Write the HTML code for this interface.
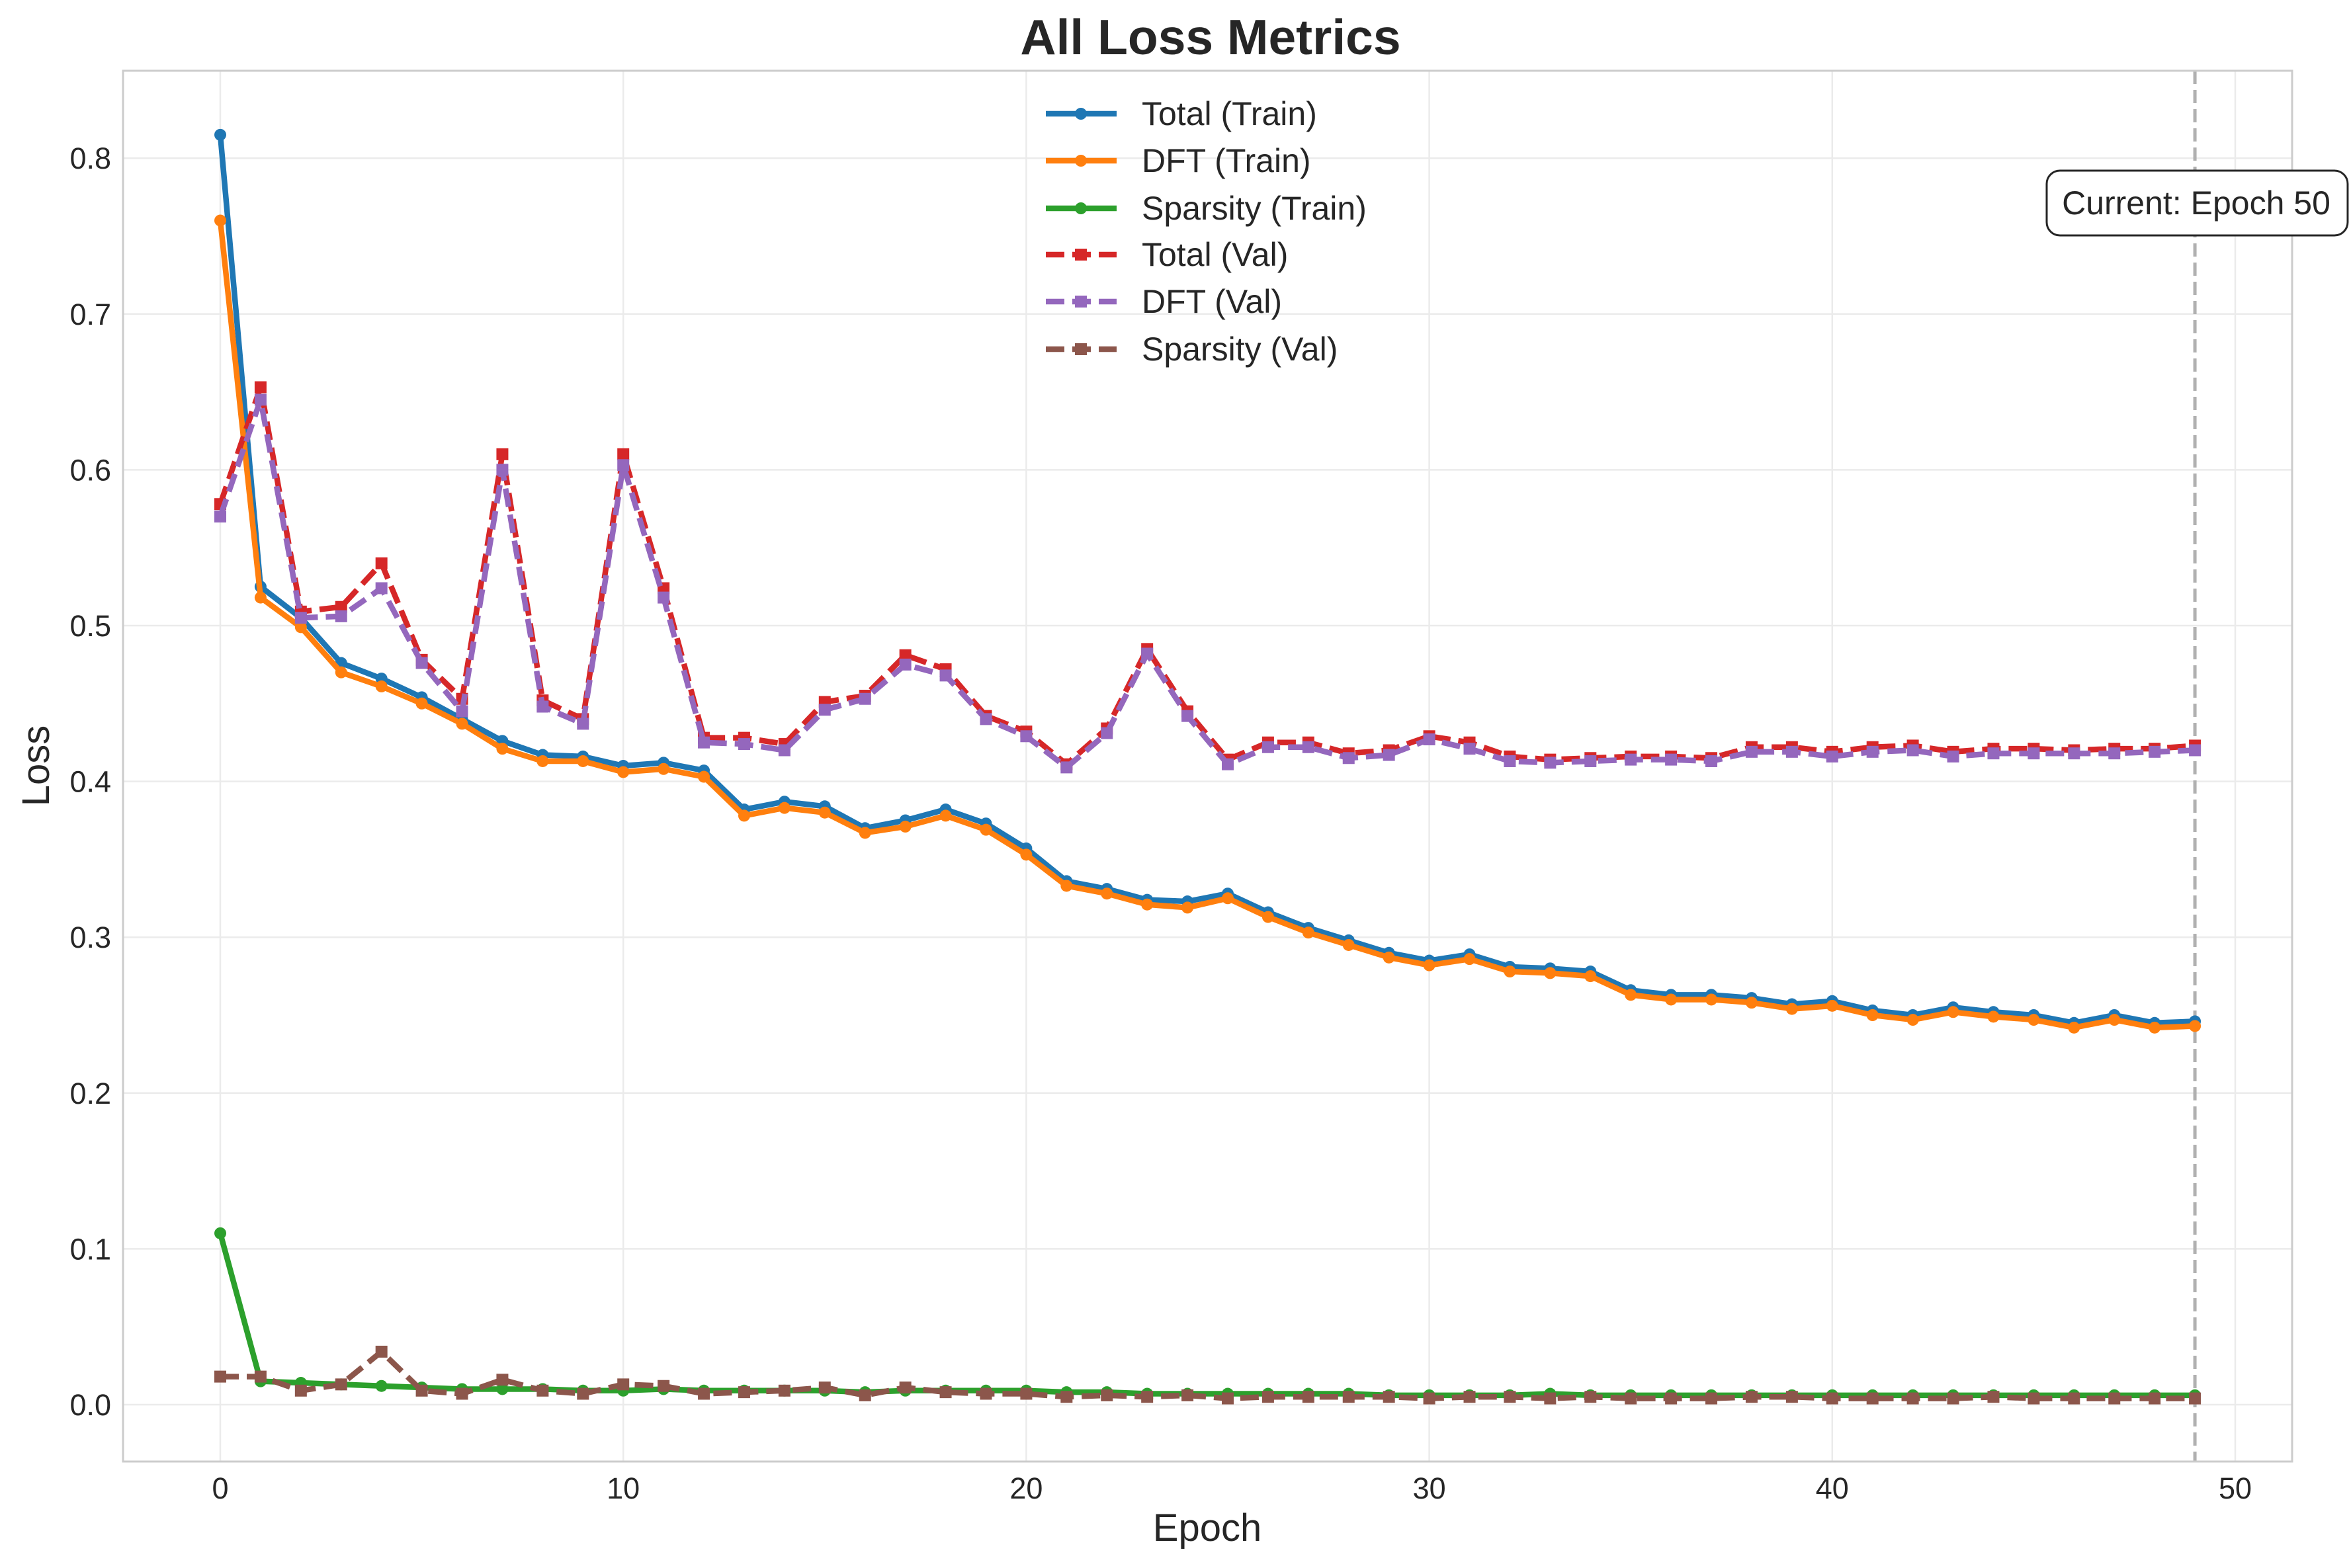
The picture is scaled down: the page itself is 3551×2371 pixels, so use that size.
<!DOCTYPE html>
<html><head><meta charset="utf-8"><style>
body{margin:0;background:#fff}
svg{display:block;font-family:"Liberation Sans",sans-serif}
</style></head><body>
<svg id="chart" width="3551" height="2371" viewBox="0 0 3551 2371">
<rect x="0" y="0" width="3551" height="2371" fill="#fff"/>
<g id="grid"></g>
<g id="ticks"></g>
<g id="series"></g>
<rect x="186" y="107" width="3279" height="2103" fill="none" stroke="#cccccc" stroke-width="3"/>
<text x="1830" y="82" text-anchor="middle" font-size="75" font-weight="bold" fill="#262626">All Loss Metrics</text>
<text x="1825" y="2330" text-anchor="middle" font-size="58" fill="#262626">Epoch</text>
<text x="74" y="1158" text-anchor="middle" font-size="58" fill="#262626" transform="rotate(-90 74 1158)">Loss</text>
<g id="legend"></g>
<g>
<rect x="3094" y="258" width="455" height="98" rx="20" fill="#fff" stroke="#262626" stroke-width="3"/>
<text x="3320" y="324" text-anchor="middle" font-size="50" fill="#262626">Current: Epoch 50</text>
</g>
</svg>
<script>
const epochs=[...Array(50).keys()];
const totalTrain=[0.815,0.525,0.505,0.476,0.466,0.454,0.440,0.426,0.417,0.416,0.410,0.412,0.407,0.382,0.387,0.384,0.370,0.375,0.382,0.373,0.357,0.336,0.331,0.324,0.323,0.328,0.316,0.306,0.298,0.290,0.285,0.289,0.281,0.280,0.278,0.266,0.263,0.263,0.261,0.257,0.259,0.253,0.250,0.255,0.252,0.250,0.245,0.250,0.245,0.246];
const dftTrain=[0.760,0.518,0.499,0.470,0.461,0.450,0.437,0.421,0.413,0.413,0.406,0.408,0.403,0.378,0.383,0.380,0.367,0.371,0.378,0.369,0.353,0.333,0.328,0.321,0.319,0.325,0.313,0.303,0.295,0.287,0.282,0.286,0.278,0.277,0.275,0.263,0.260,0.260,0.258,0.254,0.256,0.250,0.247,0.252,0.249,0.247,0.242,0.247,0.242,0.243];
const sparsityTrain=[0.110,0.015,0.014,0.013,0.012,0.011,0.010,0.010,0.010,0.009,0.009,0.010,0.009,0.009,0.009,0.009,0.008,0.009,0.009,0.009,0.009,0.008,0.008,0.007,0.007,0.007,0.007,0.007,0.007,0.006,0.006,0.006,0.006,0.007,0.006,0.006,0.006,0.006,0.006,0.006,0.006,0.006,0.006,0.006,0.006,0.006,0.006,0.006,0.006,0.006];
const totalVal=[0.578,0.653,0.509,0.512,0.540,0.478,0.453,0.610,0.452,0.440,0.610,0.524,0.428,0.428,0.424,0.451,0.455,0.481,0.472,0.442,0.432,0.411,0.434,0.485,0.445,0.414,0.425,0.425,0.418,0.420,0.429,0.425,0.416,0.414,0.415,0.416,0.416,0.415,0.422,0.422,0.419,0.422,0.423,0.419,0.421,0.421,0.420,0.421,0.421,0.423];
const dftVal=[0.570,0.645,0.505,0.506,0.524,0.476,0.445,0.600,0.448,0.437,0.603,0.518,0.425,0.424,0.420,0.446,0.453,0.475,0.468,0.440,0.429,0.409,0.431,0.482,0.442,0.411,0.422,0.422,0.415,0.417,0.427,0.421,0.413,0.412,0.413,0.414,0.414,0.413,0.419,0.419,0.416,0.419,0.420,0.416,0.418,0.418,0.418,0.418,0.419,0.420];
const sparsityVal=[0.018,0.018,0.009,0.013,0.034,0.009,0.007,0.016,0.009,0.007,0.013,0.012,0.007,0.008,0.009,0.011,0.006,0.011,0.008,0.007,0.007,0.005,0.006,0.005,0.006,0.004,0.005,0.005,0.005,0.005,0.004,0.005,0.005,0.004,0.005,0.004,0.004,0.004,0.005,0.005,0.004,0.004,0.004,0.004,0.005,0.004,0.004,0.004,0.004,0.004];
const xTicks=[0,10,20,30,40,50];
const yTicks=[0.0,0.1,0.2,0.3,0.4,0.5,0.6,0.7,0.8];
const seriesNames=["Total (Train)","DFT (Train)","Sparsity (Train)","Total (Val)","DFT (Val)","Sparsity (Val)"];
const currentEpoch=49;

const NS="http://www.w3.org/2000/svg";
const X=v=>333+v*60.92;
const Y=v=>2124-v*2356;
function mk(tag,attrs,parent){const e=document.createElementNS(NS,tag);for(const k in attrs)e.setAttribute(k,attrs[k]);parent.appendChild(e);return e;}
const grid=document.getElementById('grid'),ticks=document.getElementById('ticks'),ser=document.getElementById('series'),leg=document.getElementById('legend');
xTicks.forEach(t=>{
 const l=mk('line',{x1:X(t),x2:X(t),y1:107,y2:2210,stroke:'#ebebeb','stroke-width':2.5},grid);
 
 
 const tx=mk('text',{x:X(t),y:2266,'text-anchor':'middle','font-size':45,fill:'#262626'},ticks);
 tx.textContent=t;
 
 
});
yTicks.forEach(t=>{
 const l=mk('line',{x1:186,x2:3465,y1:Y(t),y2:Y(t),stroke:'#ebebeb','stroke-width':2.5},grid);
 
 
 const tx=mk('text',{x:168,y:Y(t)+16,'text-anchor':'end','font-size':45,fill:'#262626'},ticks);
 tx.textContent=t.toFixed(1);
 
 
});
const vl=mk('line',{x1:X(currentEpoch),x2:X(currentEpoch),y1:107,y2:2210,stroke:'#b0b0b0','stroke-width':5,'stroke-dasharray':'20 9'},ser);


const colors=['#1f77b4','#ff7f0e','#2ca02c','#d62728','#9467bd','#8c564b'];
const data=[totalTrain,dftTrain,sparsityTrain,totalVal,dftVal,sparsityVal];
const keys=['total-train','dft-train','sparsity-train','total-val','dft-val','sparsity-val'];
data.forEach((arr,i)=>{
 const g=mk('g',{},ser);
 
 
 const val=i>=3;
 const pts=arr.map((v,j)=>X(epochs[j])+','+Y(v)).join(' ');
 const pl=mk('polyline',{points:pts,fill:'none',stroke:colors[i],'stroke-width':8.5,'stroke-linejoin':'round'},g);
 if(val)pl.setAttribute('stroke-dasharray','28 12');
 
 
 arr.forEach((v,j)=>{
  let m;
  if(val)m=mk('rect',{x:X(epochs[j])-9,y:Y(v)-9,width:18,height:18,fill:colors[i]},g);
  else m=mk('circle',{cx:X(epochs[j]),cy:Y(v),r:9,fill:colors[i]},g);
  
  
 });
});
const ly=[172,243,315,385,456,528];
seriesNames.forEach((n,i)=>{
 const g=mk('g',{},leg);
 
 
 const l=mk('line',{x1:1581,x2:1688,y1:ly[i],y2:ly[i],stroke:colors[i],'stroke-width':8.5},g);
 if(i>=3)l.setAttribute('stroke-dasharray','28 12');
 if(i>=3)mk('rect',{x:1625,y:ly[i]-9,width:18,height:18,fill:colors[i]},g);
 else mk('circle',{cx:1634,cy:ly[i],r:9,fill:colors[i]},g);
 const t=mk('text',{x:1726,y:ly[i]+17,'font-size':50,fill:'#262626'},g);
 t.textContent=n;
});
</script>
</body></html>
